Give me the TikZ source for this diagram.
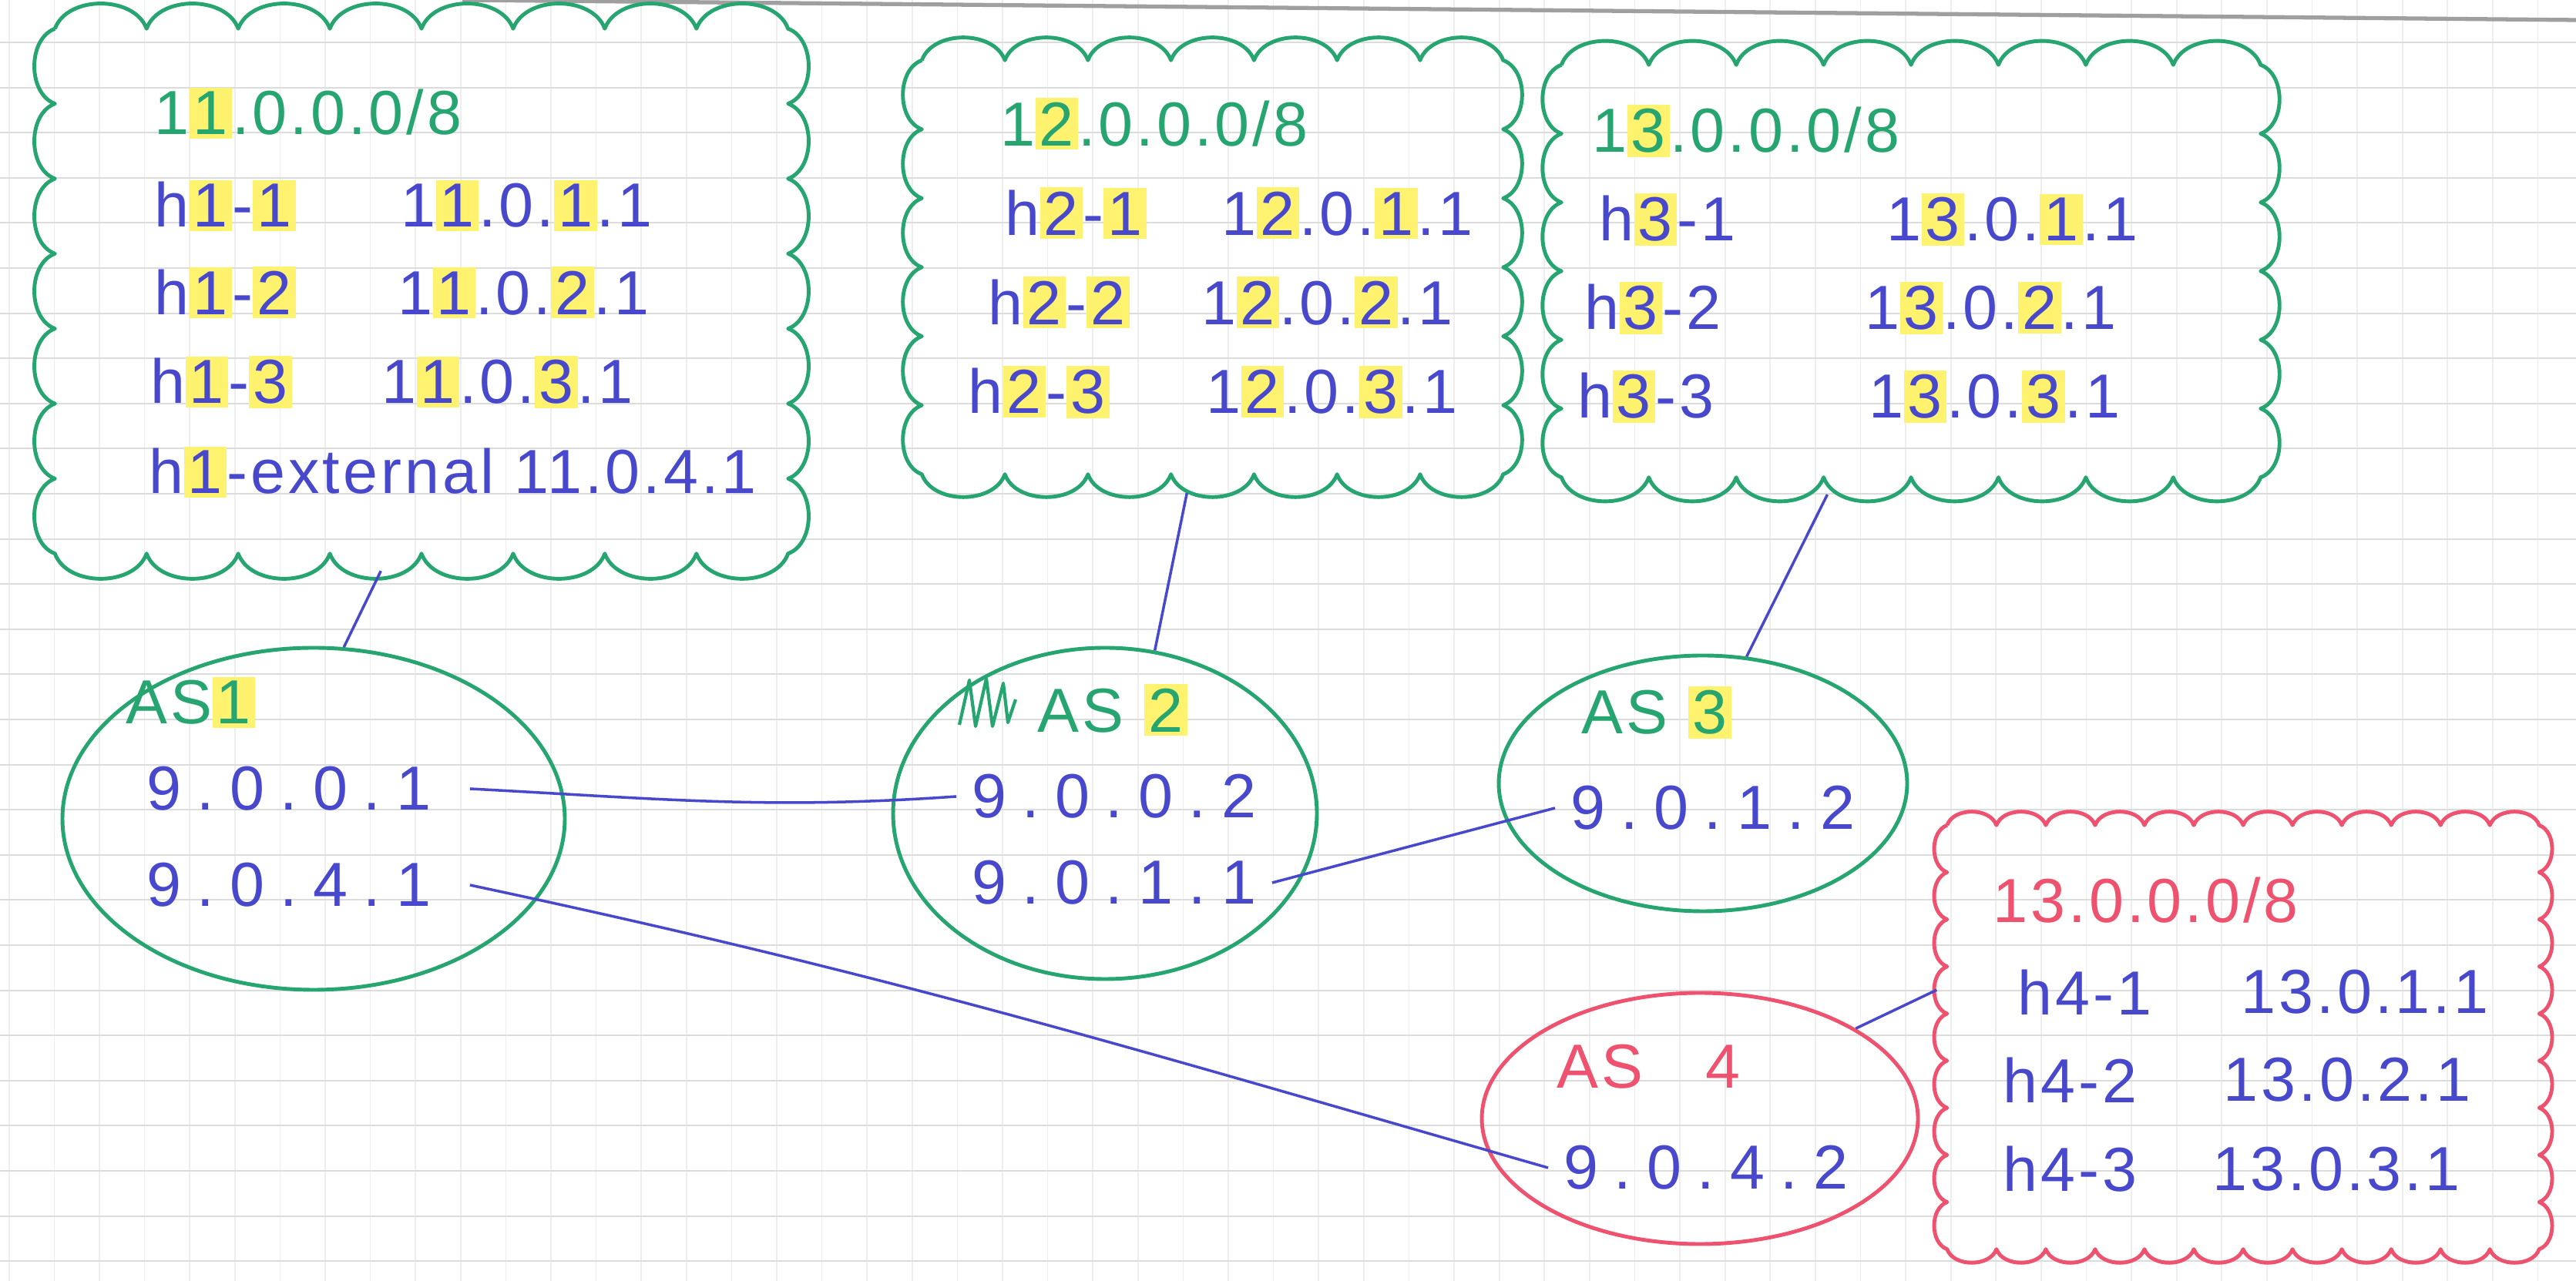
\documentclass[tikz,border=0pt]{standalone}
\usepackage{fontspec}
\usepackage{xcolor}
\usepackage{tikz}
\usetikzlibrary{positioning,shapes.geometric,calc}
\setmainfont{Liberation Sans}
\newfontfamily\netfont[LetterSpace=5]{Liberation Sans}
\newfontfamily\ipfont[LetterSpace=25]{Liberation Sans}
\definecolor{inkblue}{RGB}{72,72,205}
\definecolor{inkgreen}{RGB}{38,165,112}
\definecolor{inkred}{RGB}{238,82,110}
\definecolor{marker}{RGB}{255,242,110}
\definecolor{paperline}{RGB}{220,220,220}
\definecolor{paperdot}{RGB}{238,238,238}
\newcommand{\hl}[1]{{\setlength{\fboxsep}{1.5pt}\colorbox{marker}{#1}}}
% scalloped border round a node: node, puffs across, puffs down, colour
\newcommand{\puffs}[4]{%
  \draw[puffline, draw=#4] (#1.north west)
    \foreach \k in {1,...,#2} { to[bend left=70] ($(#1.north west)!\k/#2!(#1.north east)$) }
    \foreach \k in {1,...,#3} { to[bend left=70] ($(#1.north east)!\k/#3!(#1.south east)$) }
    \foreach \k in {1,...,#2} { to[bend left=70] ($(#1.south east)!\k/#2!(#1.south west)$) }
    \foreach \k in {1,...,#3} { to[bend left=70] ($(#1.south west)!\k/#3!(#1.north west)$) };
}

\tikzset{
  netcloud/.style={rectangle, inner sep=0pt},
  puffline/.style={line width=1.4pt, line join=round},
  ascircle/.style={draw=inkgreen, line width=1.4pt, ellipse, inner sep=0pt},
  nettext/.style={inner sep=0pt, text=inkblue, font=\netfont\fontsize{23}{27}\selectfont},
  nethead/.style={nettext, text=inkgreen},
  aslabel/.style={nethead},
  asip/.style={inner xsep=2mm, inner ysep=0pt, text=inkblue, font=\ipfont\fontsize{23}{27}\selectfont},
  link/.style={draw=inkblue, line width=1pt}
}

\begin{document}
\begin{tikzpicture}
\useasboundingbox (0,0) rectangle (33.43,16.63);
% paper
\draw[paperdot, line width=0.5pt, xshift=1.18mm] (-0.118,0.001) grid[xstep=0.586, ystep=100] (33.3,16.63);
\draw[paperline, line width=0.6pt, yshift=2.58mm] (0.001,-0.258) grid[xstep=100, ystep=0.586] (33.43,16.3);
\draw[gray!75, line width=1.5pt] (6,16.63) -- (33.43,16.37); % paper edge

% clouds
\node[netcloud, minimum width=9.50cm, minimum height=6.80cm] (c1) at (5.47,12.85) {};
\node[netcloud, minimum width=7.53cm, minimum height=5.36cm] (c2) at (15.735,13.16) {};
\node[netcloud, minimum width=9.06cm, minimum height=5.34cm] (c3) at (24.80,13.11) {};
\node[netcloud, minimum width=7.67cm, minimum height=5.49cm] (c4) at (29.11,3.165) {};
\puffs{c1}{8}{7}{inkgreen}
\puffs{c2}{7}{6}{inkgreen}
\puffs{c3}{8}{6}{inkgreen}
\puffs{c4}{12}{9}{inkred}

% AS ellipses
\node[ascircle, minimum width=6.52cm, minimum height=4.44cm] (as1) at (4.07,6.00) {};
\node[ascircle, minimum width=5.50cm, minimum height=4.30cm] (as2) at (14.34,6.07) {};
\node[ascircle, minimum width=5.30cm, minimum height=3.32cm] (as3) at (22.10,6.46) {};
\node[ascircle, draw=inkred, minimum width=5.66cm, minimum height=3.26cm] (as4) at (22.06,2.11) {};

% 11.0.0.0/8
\node[nethead, right = 0mm of {(2.00,15.16)}] (n1) {1\hl{1}.0.0.0/8};
\node[nettext, right = 0mm of {(2.00,13.96)}] (h11) {h\hl{1}-\hl{1}};
\node[nettext, right = 0mm of {(5.20,13.96)}] (a11) {1\hl{1}.0.\hl{1}.1};
\node[nettext, right = 0mm of {(2.00,12.83)}] (h12) {h\hl{1}-\hl{2}};
\node[nettext, right = 0mm of {(5.16,12.83)}] (a12) {1\hl{1}.0.\hl{2}.1};
\node[nettext, right = 0mm of {(1.95,11.67)}] (h13) {h\hl{1}-\hl{3}};
\node[nettext, right = 0mm of {(4.95,11.67)}] (a13) {1\hl{1}.0.\hl{3}.1};
\node[nettext, right = 0mm of {(1.93,10.50)}] (h1e) {h\hl{1}-external};
\node[nettext, right = 2.5mm of h1e] (a1e) {11.0.4.1};

% 12.0.0.0/8
\node[nethead, right = 0mm of {(12.98,15.02)}] (n2) {1\hl{2}.0.0.0/8};
\node[nettext, right = 0mm of {(13.04,13.86)}] (h21) {h\hl{2}-\hl{1}};
\node[nettext, right = 0mm of {(15.85,13.86)}] (a21) {1\hl{2}.0.\hl{1}.1};
\node[nettext, right = 0mm of {(12.82,12.70)}] (h22) {h\hl{2}-\hl{2}};
\node[nettext, right = 0mm of {(15.59,12.70)}] (a22) {1\hl{2}.0.\hl{2}.1};
\node[nettext, right = 0mm of {(12.56,11.54)}] (h23) {h\hl{2}-\hl{3}};
\node[nettext, right = 0mm of {(15.65,11.54)}] (a23) {1\hl{2}.0.\hl{3}.1};

% 13.0.0.0/8
\node[nethead, right = 0mm of {(20.66,14.93)}] (n3) {1\hl{3}.0.0.0/8};
\node[nettext, right = 0mm of {(20.75,13.78)}] (h31) {h\hl{3}-1};
\node[nettext, right = 0mm of {(24.48,13.78)}] (a31) {1\hl{3}.0.\hl{1}.1};
\node[nettext, right = 0mm of {(20.56,12.63)}] (h32) {h\hl{3}-2};
\node[nettext, right = 0mm of {(24.20,12.63)}] (a32) {1\hl{3}.0.\hl{2}.1};
\node[nettext, right = 0mm of {(20.47,11.48)}] (h33) {h\hl{3}-3};
\node[nettext, right = 0mm of {(24.25,11.48)}] (a33) {1\hl{3}.0.\hl{3}.1};

% 13.0.0.0/8 (AS 4)
\node[nettext, text=inkred, right = 0mm of {(25.86,4.94)}] (n4) {13.0.0.0/8};
\node[nettext, right = 0mm of {(26.18,3.75)}] (h41) {h4-1};
\node[nettext, right = 0mm of {(29.08,3.75)}] (a41) {13.0.1.1};
\node[nettext, right = 0mm of {(25.99,2.61)}] (h42) {h4-2};
\node[nettext, right = 0mm of {(28.85,2.61)}] (a42) {13.0.2.1};
\node[nettext, right = 0mm of {(25.99,1.45)}] (h43) {h4-3};
\node[nettext, right = 0mm of {(28.71,1.45)}] (a43) {13.0.3.1};

% AS labels
\node[aslabel, right = 0mm of {(1.63,7.51)}] (l1) {AS\hl{1}};
\node[aslabel, right = 0mm of {(13.46,7.41)}] (l2) {AS \hl{2}};
\node[aslabel, right = 0mm of {(20.52,7.38)}] (l3) {AS \hl{3}};
\node[aslabel, text=inkred, right = 0mm of {(20.20,2.78)}] (l4) {AS\quad 4};
\draw[inkgreen, line width=1.2pt, line join=round] (12.45,7.22) -- (12.58,7.8) -- (12.66,7.2)
  -- (12.8,7.82) -- (12.88,7.2) -- (13.02,7.76) -- (13.08,7.25) -- (13.18,7.55); % crossed out

% interfaces
\node[asip, right = 0mm of {(1.70,6.39)}] (i1a) {9.0.0.1};
\node[asip, right = 0mm of {(1.70,5.14)}] (i1b) {9.0.4.1};
\node[asip, right = 0mm of {(12.41,6.29)}] (i2a) {9.0.0.2};
\node[asip, right = 0mm of {(12.41,5.17)}] (i2b) {9.0.1.1};
\node[asip, right = 0mm of {(20.18,6.14)}] (i3a) {9.0.1.2};
\node[asip, right = 0mm of {(20.09,1.47)}] (i4a) {9.0.4.2};

% links
\draw[link, shorten <=2.5mm] (c1.263) -- (as1.80);
\draw[link, shorten <=2.5mm] (c2.264) -- (as2.73);
\draw[link, shorten <=2.5mm] (c3.250) -- (as3.71);
\draw[link, shorten >=1.5mm] (as4.30) -- (c4.170);
\draw[link] ([xshift=3mm]i1a.east) to[out=-3, in=184] (i2a.west);
\draw[link] (i2b.east) -- (i3a.west);
\draw[link] ([xshift=3mm]i1b.east) to[out=-12, in=164] (i4a.west);
\end{tikzpicture}
\end{document}
